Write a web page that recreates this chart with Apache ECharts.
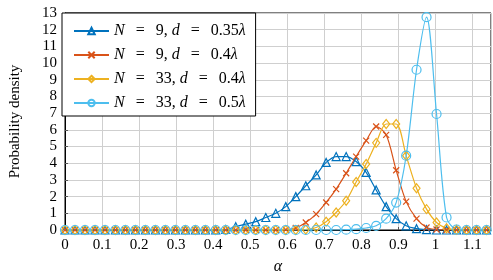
<!DOCTYPE html>
<html>
<head>
<meta charset="utf-8">
<script src="https://cdn.jsdelivr.net/npm/echarts@6/dist/echarts.min.js"></script>
<style>
html, body { margin: 0; padding: 0; background: #fff; }
#chart { width: 493px; height: 280px; }
</style>
</head>
<body>
<div id="chart"></div>
<script>
// alpha sample points (x axis)
const alpha = [0, 0.027, 0.054, 0.081, 0.108, 0.136, 0.163, 0.19, 0.217, 0.244,
    0.271, 0.298, 0.325, 0.352, 0.379, 0.407, 0.434, 0.461, 0.488, 0.515,
    0.542, 0.569, 0.596, 0.623, 0.65, 0.678, 0.705, 0.732, 0.759, 0.786,
    0.813, 0.84, 0.867, 0.894, 0.921, 0.949, 0.976, 1.003, 1.03, 1.057,
    1.084, 1.111, 1.138]

const seriesNames = ['N = 9, d = 0.35λ', 'N = 9, d = 0.4λ', 'N = 33, d = 0.4λ', 'N = 33, d = 0.5λ']

// probability density
const pdfN9d035 = [0, 0, 0, 0, 0, 0, 0, 0, 0, 0,
    0, 0, 0, 0, 0, 0.01, 0.03, 0.2, 0.35, 0.5,
    0.75, 1.0, 1.4, 2.0, 2.65, 3.3, 4.05, 4.4, 4.4, 4.1,
    3.45, 2.4, 1.4, 0.68, 0.25, 0.08, 0.02, 0, 0, 0,
    0, 0, 0]
const pdfN9d04 = [0, 0, 0, 0, 0, 0, 0, 0, 0, 0,
    0, 0, 0, 0, 0, 0, 0, 0, 0, 0,
    0, 0, 0.02, 0.12, 0.45, 0.95, 1.65, 2.45, 3.4, 4.4,
    5.35, 6.2, 5.7, 3.58, 1.7, 0.68, 0.15, 0.03, 0, 0,
    0, 0, 0]
const pdfN33d04 = [0, 0, 0, 0, 0, 0, 0, 0, 0, 0,
    0, 0, 0, 0, 0, 0, 0, 0, 0, 0,
    0, 0, 0, 0, 0.03, 0.15, 0.5, 1.05, 1.75, 2.88,
    3.95, 5.22, 6.35, 6.35, 4.45, 2.5, 1.25, 0.45, 0.1, 0.02,
    0, 0, 0]
const pdfN33d05 = [0, 0, 0, 0, 0, 0, 0, 0, 0, 0,
    0, 0, 0, 0, 0, 0, 0, 0, 0, 0,
    0, 0, 0, 0, 0, 0, 0, 0, 0.02, 0.05,
    0.12, 0.25, 0.68, 1.64, 4.45, 9.6, 12.75, 6.95, 0.75, 0.03,
    0, 0, 0]

const colors = ['#0072BD', '#D95319', '#EDB120', '#4DBEEE']
const symbols = ['triangle', 'path://M0,0L1,1M1,0L0,1', 'diamond', 'circle']
const symbolSizes = [8, 6, [7, 9], 9]
const allValues = [pdfN9d035, pdfN9d04, pdfN33d04, pdfN33d05]

const serif = '"Liberation Serif", "DejaVu Serif", serif'

const chart = echarts.init(document.getElementById('chart'))

const series = allValues.map((vals, k) => {
    return {
        name: seriesNames[k],
        type: 'line',
        data: alpha.map((a, i) => [a, vals[i]]),
        smooth: 0.3,
        symbol: symbols[k],
        symbolSize: symbolSizes[k],
        showAllSymbol: true,
        lineStyle: { color: colors[k], width: 1.2 },
        itemStyle: { color: 'rgba(255,255,255,0)', borderColor: colors[k], borderWidth: 1.2 },
        emphasis: { disabled: true },
        animation: false
    }
})

// italic for N, d, λ like the latex legend
function legendLabel (name) {
    const m = name.match(/N = (\d+), d = ([\d.]+)λ/)
    return '{i|N}{e|=}' + m[1] + ', {i|d}{e|=}' + m[2] + '{i|λ}'
}

const option = {
    animation: false,
    grid: {
        left: 62,
        right: 2,
        top: 13,
        bottom: 48,
        show: true,
        borderColor: '#000',
        borderWidth: 1
    },
    xAxis: {
        type: 'value',
        min: 0,
        max: 1.15,
        interval: 0.1,
        name: 'α',
        nameLocation: 'middle',
        nameGap: 29,
        nameTextStyle: { fontFamily: serif, fontStyle: 'italic', fontSize: 16, color: '#000' },
        axisLine: { lineStyle: { color: '#000' } },
        axisTick: { inside: true, length: 3, lineStyle: { color: '#555' } },
        axisLabel: { fontFamily: serif, fontSize: 15, color: '#000', margin: 8, showMaxLabel: false },
        splitLine: { show: true, lineStyle: { color: '#cfcfcf' } }
    },
    yAxis: {
        type: 'value',
        min: 0,
        max: 13,
        interval: 1,
        name: 'Probability density',
        nameLocation: 'middle',
        nameGap: 42,
        nameTextStyle: { fontFamily: serif, fontSize: 15, color: '#000' },
        axisLine: { show: true, lineStyle: { color: '#000' } },
        axisTick: { show: true, inside: true, length: 3, lineStyle: { color: '#555' } },
        axisLabel: { fontFamily: serif, fontSize: 15, color: '#000', margin: 8 },
        splitLine: { show: true, lineStyle: { color: '#cfcfcf' } }
    },
    legend: {
        orient: 'vertical',
        left: 62,
        top: 13,
        padding: [9, 10, 4, 11],
        itemGap: 6,
        itemWidth: 35,
        itemHeight: 8,
        backgroundColor: '#fff',
        borderColor: '#000',
        borderWidth: 1,
        data: seriesNames,
        formatter: legendLabel,
        textStyle: {
            fontFamily: serif,
            fontSize: 16,
            color: '#000',
            lineHeight: 18,
            rich: {
                i: { fontFamily: serif, fontStyle: 'italic', fontSize: 16, color: '#000', lineHeight: 18 },
                e: { fontFamily: serif, fontSize: 16, color: '#000', lineHeight: 18, width: 31, align: 'center' }
            }
        }
    },
    series: series
}

chart.setOption(option)
</script>
</body>
</html>
